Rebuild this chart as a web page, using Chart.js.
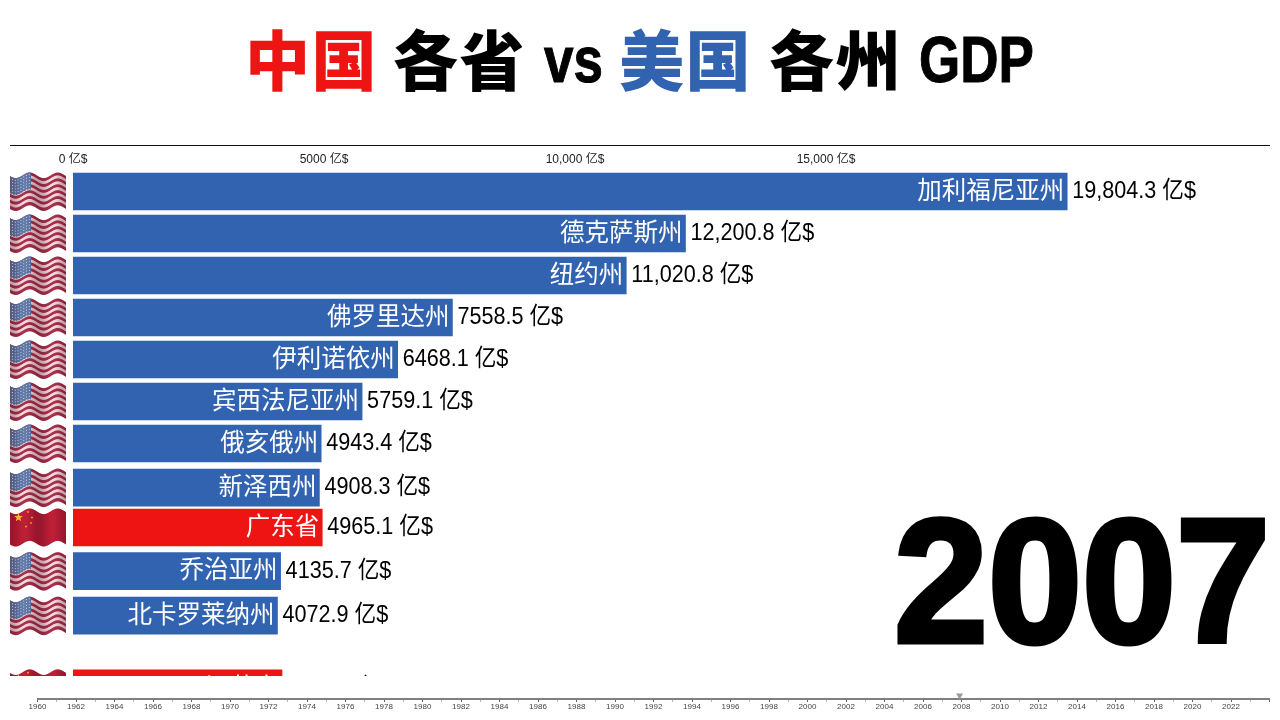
<!DOCTYPE html>
<html lang="zh">
<head>
    <meta charset="UTF-8">
    <title>中国各省 vs 美国各州 GDP</title>
    <script src="https://cdn.jsdelivr.net/npm/chart.js"></script>
    <style>
        html, body {
            margin: 0;
            width: 1280px;
            height: 720px;
            overflow: hidden;
            background: #fff;
        }
        .word {
            position: absolute;
            top: 13px;
            font-size: 65px;
            line-height: 88px;
            font-weight: 900;
            letter-spacing: 1.5px;
            white-space: nowrap;
            font-family: "Noto Sans CJK SC", sans-serif;
            color: #000;
        }
        .latin {
            top: 16px;
            font-family: "Liberation Sans", sans-serif;
            font-weight: 700;
            letter-spacing: 0;
            -webkit-text-stroke: 1px #000;
            transform: scaleX(0.815);
            transform-origin: left center;
        }
        #rule {
            position: absolute;
            left: 10px;
            top: 145px;
            width: 1260px;
            height: 1px;
            background: #111;
        }
        #year {
            position: absolute;
            left: 894px;
            top: 465px;
            white-space: nowrap;
            font: 700 176px/232px "Liberation Sans", sans-serif;
            -webkit-text-stroke: 5px #000;
            color: #000;
            transform: scaleX(0.96);
            transform-origin: left center;
        }
        #raceChart, #timeChart { position: absolute; left: 0; }
        #raceChart { top: 0; }
        #timeChart { top: 680px; }
    </style>
</head>
<body>
    <span class="word" style="left:245px;color:#ee1414">中国</span>
    <span class="word" style="left:393px">各省</span>
    <span class="word latin" style="left:544px">vs</span>
    <span class="word" style="left:619px;color:#3163b0">美国</span>
    <span class="word" style="left:769px">各州</span>
    <span class="word latin" style="left:919px">GDP</span>
    <div id="rule"></div>
    <canvas id="raceChart" width="1280" height="720"></canvas>
    <canvas id="timeChart" width="1280" height="40"></canvas>
    <div id="year"></div>
    <script>
        const regions = ['加利福尼亚州', '德克萨斯州', '纽约州', '佛罗里达州', '伊利诺依州', '宾西法尼亚州', '俄亥俄州', '新泽西州', '广东省', '乔治亚州', '北卡罗莱纳州', '江苏省'];
        const gdpValues = [19804.3, 12200.8, 11020.8, 7558.5, 6468.1, 5759.1, 4943.4, 4908.3, 4965.1, 4135.7, 4072.9, 4163.0];
        const countries = ['us', 'us', 'us', 'us', 'us', 'us', 'us', 'us', 'cn', 'us', 'us', 'cn'];
        // ranks are mid-animation in the frame, that's why they are not whole numbers
        const ranks = [1, 2, 3, 4, 5, 6, 7, 8.05, 9, 10.04, 11.1, 12.83];
        const axisTicks = [0, 5000, 10000, 15000];
        const currentYear = '2007';
        const timelinePosition = [2007.9];

        const BLUE = '#3163b0';
        const RED = '#ee1414';
        const LATIN = '"Liberation Sans", "Noto Sans CJK SC", sans-serif';

        document.getElementById('year').textContent = currentYear;

        function money(v) {
            return v >= 10000 ? v.toLocaleString('en-US') : String(v);
        }
        function moneyLabel(v) {
            const s = v.toFixed(1);
            return (v >= 10000 ? Number(s).toLocaleString('en-US', { minimumFractionDigits: 1 }) : s) + ' 亿$';
        }

        function waveAt(i, w) {
            return 2.8 * Math.sin(i / w * Math.PI * 4 + 0.4);
        }

        // waving flag, drawn one column at a time
        function drawFlag(ctx, x, y, w, h, country) {
            for (let i = 0; i < w; i++) {
                const wave = waveAt(i, w);
                const shade = 0.14 * (1 + Math.sin(i / w * Math.PI * 4 + 1.6));
                const top = y + 2.8 + wave;
                const hh = h - 5.6;
                if (country === 'cn') {
                    ctx.fillStyle = '#bd1f36';
                    ctx.fillRect(x + i, top, 1, hh);
                } else {
                    for (let s = 0; s < 11; s++) {
                        ctx.fillStyle = s % 2 ? '#f6d9de' : '#a8324c';
                        ctx.fillRect(x + i, top + s * hh / 11, 1, hh / 11 + 0.5);
                    }
                    if (i < w * 0.36) {
                        ctx.fillStyle = '#5f7cab';
                        ctx.fillRect(x + i, top, 1, hh * 0.52);
                    }
                }
                ctx.fillStyle = 'rgba(60,0,20,' + shade.toFixed(3) + ')';
                ctx.fillRect(x + i, top, 1, hh);
            }
            if (country === 'cn') {
                ctx.fillStyle = '#f2b632';
                star(ctx, x + 8.5, y + 9, 4.6);
                star(ctx, x + 18, y + 3.5, 1.4);
                star(ctx, x + 22, y + 9, 1.4);
                star(ctx, x + 21, y + 14.5, 1.4);
                star(ctx, x + 16, y + 18, 1.4);
            } else {
                ctx.fillStyle = 'rgba(235,240,250,0.75)';
                for (let r = 0; r < 6; r++) {
                    for (let c = 0; c < 7; c++) {
                        const px = x + 2 + c * 2.8;
                        ctx.fillRect(px, y + 4.5 + waveAt(px - x, w) + r * 2.9, 1, 1);
                    }
                }
            }
        }

        function star(ctx, cx, cy, r) {
            ctx.beginPath();
            for (let i = 0; i < 10; i++) {
                const a = -Math.PI / 2 + i * Math.PI / 5;
                const rad = i % 2 ? r * 0.42 : r;
                ctx.lineTo(cx + rad * Math.cos(a), cy + rad * Math.sin(a));
            }
            ctx.closePath();
            ctx.fill();
        }

        const rowDecor = {
            id: 'rowDecor',
            afterDatasetsDraw(chart) {
                const ctx = chart.ctx;
                const area = chart.chartArea;
                const x = chart.scales.x;
                const y = chart.scales.y;
                ctx.save();
                ctx.beginPath();
                ctx.rect(0, area.top, chart.width, area.bottom - area.top);
                ctx.clip();
                ctx.textBaseline = 'middle';
                regions.forEach((name, i) => {
                    const cy = y.getPixelForValue(ranks[i]);
                    const end = x.getPixelForValue(gdpValues[i]);
                    drawFlag(ctx, 10, cy - 19, 56, 38, countries[i]);
                    ctx.fillStyle = '#fff';
                    ctx.textAlign = 'right';
                    ctx.font = '24.5px "Noto Sans CJK SC", sans-serif';
                    ctx.fillText(name, end - 3, cy - 2);
                    // the value labels are a condensed face in the original, squeeze them
                    ctx.save();
                    ctx.translate(end + 5, cy);
                    ctx.scale(0.9, 1);
                    ctx.fillStyle = '#000';
                    ctx.textAlign = 'left';
                    ctx.font = '24px ' + LATIN;
                    ctx.fillText(moneyLabel(gdpValues[i]), 0, 0);
                    ctx.restore();
                });
                ctx.restore();
            }
        };

        new Chart(document.getElementById('raceChart'), {
            type: 'bar',
            data: {
                datasets: [{
                    data: gdpValues.map((v, i) => ({ x: v, y: ranks[i] })),
                    backgroundColor: countries.map(c => c === 'cn' ? RED : BLUE),
                    barThickness: 37
                }]
            },
            options: {
                indexAxis: 'y',
                responsive: false,
                animation: false,
                layout: { padding: { left: 73, right: 10, top: 146, bottom: 44 } },
                plugins: { legend: { display: false }, tooltip: { enabled: false } },
                scales: {
                    x: {
                        type: 'linear',
                        position: 'top',
                        min: 0,
                        max: 23844,
                        grid: { display: false, drawTicks: false },
                        border: { display: false },
                        afterBuildTicks(scale) { scale.ticks = axisTicks.map(v => ({ value: v })); },
                        afterFit(scale) { scale.height = 24; },
                        ticks: {
                            padding: 3,
                            color: '#222',
                            font: { family: LATIN, size: 12 },
                            maxRotation: 0,
                            autoSkip: false,
                            callback: v => money(v) + ' 亿$'
                        }
                    },
                    y: { type: 'linear', display: false, offset: false, reverse: true, min: 0.488, max: 12.536 }
                }
            },
            plugins: [rowDecor]
        });

        new Chart(document.getElementById('timeChart'), {
            type: 'scatter',
            data: {
                datasets: [{
                    data: timelinePosition.map(v => ({ x: v, y: 0 })),
                    pointStyle: 'triangle',
                    rotation: 180,
                    radius: 4,
                    backgroundColor: '#999',
                    borderWidth: 0
                }]
            },
            options: {
                responsive: false,
                animation: false,
                layout: { padding: { left: 37.5, right: 10.5, top: 0, bottom: 0 } },
                plugins: { legend: { display: false }, tooltip: { enabled: false } },
                scales: {
                    x: {
                        type: 'linear',
                        min: 1960,
                        max: 2024,
                        afterFit(scale) { scale.height = 21; },
                        border: { color: '#808080', width: 2 },
                        grid: {
                            drawOnChartArea: false,
                            tickLength: 3,
                            tickColor: c => c.tick && c.tick.value % 2 === 0 ? '#666' : '#bbb'
                        },
                        ticks: {
                            stepSize: 1,
                            autoSkip: false,
                            maxRotation: 0,
                            padding: 0,
                            color: '#444',
                            font: { family: '"Liberation Sans", sans-serif', size: 8 },
                            callback: v => v % 2 === 0 && v < 2024 ? String(v) : ''
                        }
                    },
                    y: { display: false, min: -0.5, max: 1.6 }
                }
            }
        });
    </script>
</body>
</html>
